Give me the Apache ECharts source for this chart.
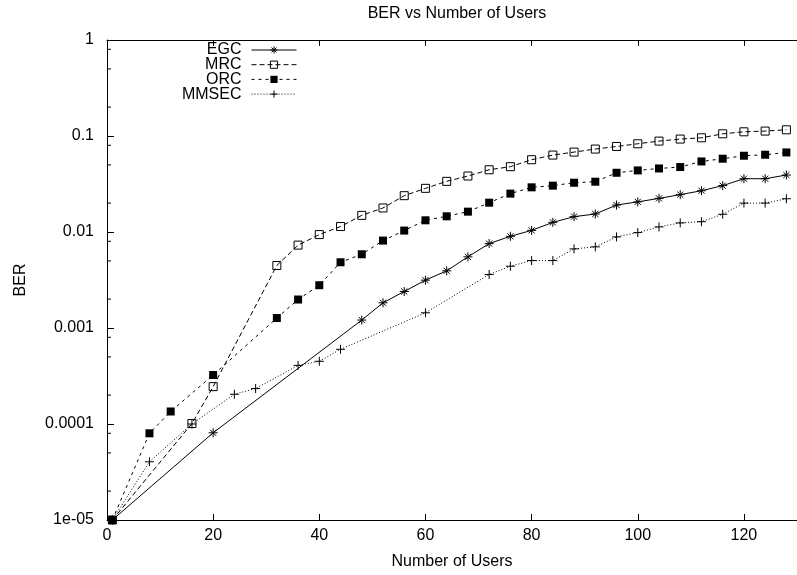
<!DOCTYPE html>
<html><head><meta charset="utf-8">
<script src="https://cdn.jsdelivr.net/npm/echarts@6/dist/echarts.min.js"></script>
<style>html,body{margin:0;padding:0;background:#fff}#c{width:797px;height:575px}</style>
</head><body><div id="c"></div>
<script>
const titleText = 'BER vs Number of Users';
const xName = 'Number of Users';
const yName = 'BER';
const seriesNames = ['EGC', 'MRC', 'ORC', 'MMSEC'];

const egcX = [1, 20, 48, 52, 56, 60, 64, 68, 72, 76, 80, 84, 88, 92, 96, 100, 104, 108, 112, 116, 120, 124, 128];
const egcY = [1e-5, 8.1e-5, 0.00121, 0.00183, 0.0024, 0.00315, 0.00394, 0.00551, 0.00757, 0.00902, 0.0104, 0.0126, 0.01445, 0.0154, 0.0191, 0.0206, 0.0224, 0.0245, 0.0269, 0.0304, 0.0359, 0.0359, 0.0392];

const mrcX = [1, 16, 20, 32, 36, 40, 44, 48, 52, 56, 60, 64, 68, 72, 76, 80, 84, 88, 92, 96, 100, 104, 108, 112, 116, 120, 124, 128];
const mrcY = [1e-5, 1.01e-4, 2.45e-4, 0.00448, 0.0073, 0.0094, 0.0114, 0.0149, 0.0178, 0.0239, 0.0285, 0.0337, 0.0383, 0.0445, 0.0479, 0.0566, 0.0633, 0.068, 0.0731, 0.0778, 0.083, 0.0885, 0.0929, 0.0958, 0.1054, 0.1106, 0.1125, 0.116];

const orcX = [1, 8, 12, 20, 32, 36, 40, 44, 48, 52, 56, 60, 64, 68, 72, 76, 80, 84, 88, 92, 96, 100, 104, 108, 112, 116, 120, 124, 128];
const orcY = [1e-5, 8.0e-5, 1.35e-4, 3.24e-4, 0.00127, 0.00198, 0.00279, 0.00484, 0.00586, 0.00814, 0.01035, 0.01324, 0.01457, 0.01629, 0.0202, 0.0251, 0.0292, 0.0304, 0.0326, 0.0334, 0.0414, 0.0438, 0.0459, 0.0475, 0.0543, 0.058, 0.0623, 0.0638, 0.0674];

const mmsecX = [1, 8, 16, 24, 28, 36, 40, 44, 60, 72, 76, 80, 84, 88, 92, 96, 100, 104, 108, 112, 116, 120, 124, 128];
const mmsecY = [1e-5, 4.04e-5, 1.0e-4, 2.04e-4, 2.34e-4, 4.08e-4, 4.5e-4, 6.0e-4, 0.00144, 0.00361, 0.0044, 0.00504, 0.00504, 0.00667, 0.007, 0.00889, 0.00986, 0.0113, 0.01244, 0.0128, 0.0153, 0.02, 0.02, 0.0222];

const xTicks = [0, 20, 40, 60, 80, 100, 120];
const yTickLabels = ['1e-05', '0.0001', '0.001', '0.01', '0.1', '1'];
const yMinorTicks = [2e-5, 5e-5, 8e-5, 2e-4, 5e-4, 8e-4, 2e-3, 5e-3, 8e-3, 0.02, 0.05, 0.08, 0.2, 0.5, 0.8];

const FONT = '"Liberation Sans", Arial, Helvetica, sans-serif';
const BLACK = '#000';

const zip = (xs, ys) => xs.map((x, i) => [x, ys[i]]);

const symStar = 'path://M0,5L10,5M5,0L5,10M1.6,1.6L8.4,8.4M8.4,1.6L1.6,8.4';
const symPlus = 'path://M0,5L10,5M5,0L5,10';
const symOpenSq = 'path://M0,0L10,0L10,10L0,10Z';

const seriesDefs = [
  { name: 'EGC', data: zip(egcX, egcY), symbol: symStar, symbolSize: 9,
    itemStyle: { color: 'rgba(0,0,0,0)', borderColor: BLACK, borderWidth: 1 },
    lineStyle: { color: BLACK, width: 1, type: 'solid' } },
  { name: 'MRC', data: zip(mrcX, mrcY), symbol: symOpenSq, symbolSize: 8,
    itemStyle: { color: 'rgba(0,0,0,0)', borderColor: BLACK, borderWidth: 1 },
    lineStyle: { color: BLACK, width: 1, type: [5, 3] } },
  { name: 'ORC', data: zip(orcX, orcY), symbol: 'rect', symbolSize: 8,
    itemStyle: { color: BLACK, borderColor: BLACK, borderWidth: 0 },
    lineStyle: { color: BLACK, width: 1, type: [3, 4] } },
  { name: 'MMSEC', data: zip(mmsecX, mmsecY), symbol: symPlus, symbolSize: 9,
    itemStyle: { color: 'rgba(0,0,0,0)', borderColor: BLACK, borderWidth: 1 },
    lineStyle: { color: BLACK, width: 1, type: [1, 2] } }
];

const chart = echarts.init(document.getElementById('c'), null, { renderer: 'canvas' });

const xMax = 130;
const pxPerUnit = 5.382;

const commonX = {
  type: 'value', min: 0, max: xMax, interval: 20,
  splitLine: { show: false },
  axisLine: { show: true, lineStyle: { color: BLACK, width: 1 } },
  axisTick: { show: true, inside: true, length: 6, lineStyle: { color: BLACK } }
};

const option = {
  animation: false,
  backgroundColor: '#fff',
  title: {
    text: titleText, left: 457, top: 6, padding: 0, textAlign: 'center',
    textStyle: { fontSize: 16, fontWeight: 'normal', color: BLACK, fontFamily: FONT }
  },
  grid: { left: 107, top: 40, width: xMax * pxPerUnit, height: 481, containLabel: false },
  legend: seriesNames.map((n, i) => {
    const s = seriesDefs[i];
    return {
      data: [n], orient: 'vertical', align: 'right', right: 500, top: 42 + i * 14.7,
      padding: 0, itemWidth: 45, itemHeight: 9, selectedMode: false,
      itemStyle: { color: s.itemStyle.color, borderColor: BLACK, borderWidth: s.itemStyle.borderWidth },
      lineStyle: { color: BLACK, width: 1, type: s.lineStyle.type },
      textStyle: { fontSize: 16, color: BLACK, fontFamily: FONT, padding: [0, 5, 0, 0] }
    };
  }),
  xAxis: [
    Object.assign({}, commonX, {
      position: 'bottom',
      axisLabel: {
        show: true, color: BLACK, fontSize: 16, fontFamily: FONT, margin: 8,
        showMaxLabel: false,
        formatter: v => (xTicks.indexOf(v) >= 0 ? String(v) : '')
      },
      name: xName, nameLocation: 'middle', nameGap: 34,
      nameTextStyle: { color: BLACK, fontSize: 16, fontFamily: FONT }
    }),
    Object.assign({}, commonX, { position: 'top', axisLabel: { show: false } })
  ],
  yAxis: {
    type: 'log', logBase: 10, min: 1e-5, max: 1,
    splitLine: { show: false },
    axisLine: { show: true, lineStyle: { color: BLACK, width: 1 } },
    axisTick: { show: true, inside: true, length: 7, lineStyle: { color: BLACK } },
    axisLabel: {
      color: BLACK, fontSize: 16, fontFamily: FONT, margin: 13,
      formatter: v => {
        const k = Math.round(Math.log10(v)) + 5;
        return yTickLabels[k] !== undefined ? yTickLabels[k] : '';
      }
    },
    name: yName, nameLocation: 'middle', nameGap: 78, nameRotate: 90,
    nameTextStyle: { color: BLACK, fontSize: 16, fontFamily: FONT }
  },
  series: seriesDefs.map(s => ({
    type: 'line', name: s.name, data: s.data, xAxisIndex: 0, yAxisIndex: 0,
    symbol: s.symbol, symbolSize: s.symbolSize, showSymbol: true,
    itemStyle: s.itemStyle, lineStyle: s.lineStyle,
    emphasis: { disabled: true }, z: 3, clip: false
  })).concat([{
    type: 'custom', name: 'minorTicks', xAxisIndex: 0, yAxisIndex: 0, silent: true, z: 2,
    data: yMinorTicks.map(v => [0, v]),
    renderItem: (params, api) => {
      const p = api.coord([0, api.value(1)]);
      return { type: 'line', shape: { x1: p[0], y1: p[1], x2: p[0] + 4, y2: p[1] },
               style: { stroke: BLACK, lineWidth: 1 } };
    }
  }])
};

chart.setOption(option);
</script>
</body></html>
